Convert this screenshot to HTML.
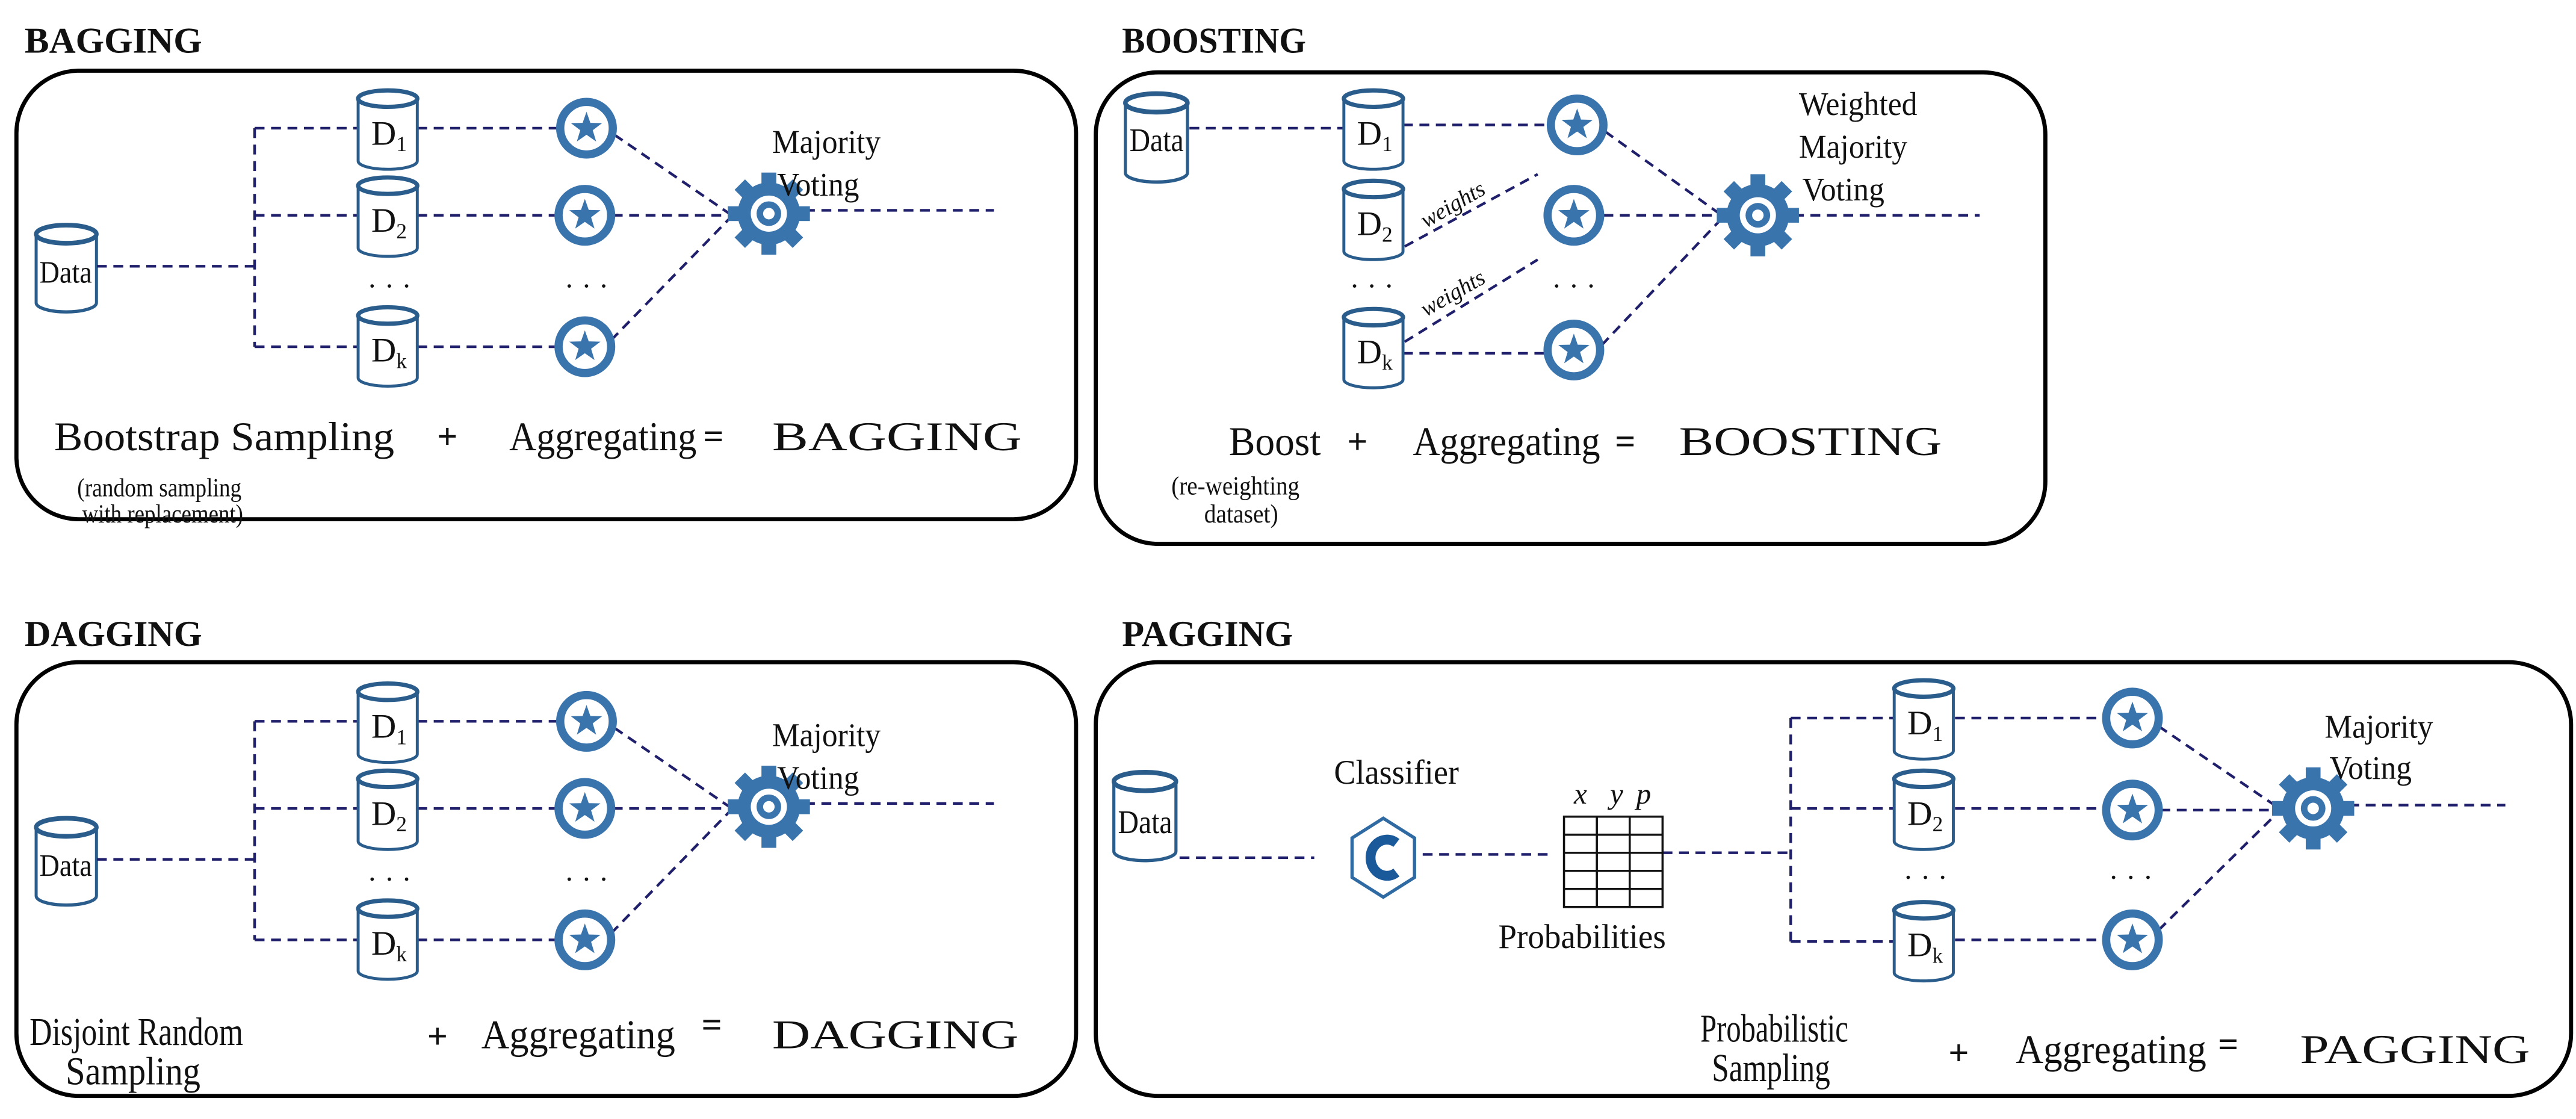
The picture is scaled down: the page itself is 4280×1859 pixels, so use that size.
<!DOCTYPE html>
<html><head><meta charset="utf-8"><style>
html,body{margin:0;padding:0;background:#fff;}
svg{display:block;}
text{font-family:"Liberation Serif",serif;fill:#111;}
</style></head><body>
<svg width="4280" height="1859" viewBox="0 0 1568 681" xmlns="http://www.w3.org/2000/svg">
<defs>
<g id="cyl">
<path d="M0,5 V43 A18,5 0 0 0 36,43 V5" fill="#fff" stroke="#2a5d8c" stroke-width="1.8"/>
<ellipse cx="18" cy="5" rx="18" ry="5" fill="#fff" stroke="#2a5d8c" stroke-width="2.6"/>
</g>
<g id="star">
<circle r="16" fill="#fff" stroke="#3a74ad" stroke-width="5"/>
<polygon fill="#3a74ad" points="0,-10 2.35,-3.24 9.51,-3.09 3.8,1.24 5.88,8.09 0,4 -5.88,8.09 -3.8,1.24 -9.51,-3.09 -2.35,-3.24"/>
</g>
<g id="gear" fill="#3a74ad">
<circle r="19"/>
<rect x="-4.5" y="-25" width="9" height="50"/>
<rect x="-4.5" y="-25" width="9" height="50" transform="rotate(45)"/>
<rect x="-4.5" y="-25" width="9" height="50" transform="rotate(90)"/>
<rect x="-4.5" y="-25" width="9" height="50" transform="rotate(135)"/>
<circle r="11" fill="#fff"/>
<circle r="7.5"/>
<circle r="3.5" fill="#fff"/>
</g>
<g id="bagcore">
<g transform="translate(22,137) scale(1.02,1.1)"><use href="#cyl"/></g>
<text x="40" y="172" font-size="19" text-anchor="middle" textLength="32" lengthAdjust="spacingAndGlyphs">Data</text>
<g stroke="#1f1f6b" stroke-width="1.6" stroke-dasharray="6 4" fill="none">
<line x1="59" y1="162" x2="155" y2="162"/>
<line x1="155" y1="78" x2="155" y2="211"/>
<line x1="155" y1="78" x2="218" y2="78"/>
<line x1="155" y1="131" x2="218" y2="131"/>
<line x1="155" y1="211" x2="218" y2="211"/>
<line x1="254" y1="78" x2="340" y2="78"/>
<line x1="254" y1="131" x2="340" y2="131"/>
<line x1="254" y1="211" x2="340" y2="211"/>
<line x1="374" y1="82" x2="444" y2="130"/>
<line x1="373" y1="131" x2="444" y2="131"/>
<line x1="372" y1="207" x2="444" y2="133"/>
<line x1="490" y1="128" x2="605" y2="128"/>
</g>
<use href="#cyl" x="218" y="55"/>
<use href="#cyl" x="218" y="108"/>
<use href="#cyl" x="218" y="187"/>
<text x="226" y="88" font-size="21">D<tspan font-size="13" dy="4">1</tspan></text>
<text x="226" y="141" font-size="21">D<tspan font-size="13" dy="4">2</tspan></text>
<text x="226" y="220" font-size="21">D<tspan font-size="13" dy="4">k</tspan></text>
<text x="237" y="180" font-size="18" text-anchor="middle">· · ·</text>
<text x="357" y="180" font-size="18" text-anchor="middle">· · ·</text>
<use href="#star" x="357" y="78"/>
<use href="#star" x="356" y="131"/>
<use href="#star" x="356" y="211"/>
<use href="#gear" x="468" y="130"/>
<text x="470" y="93" font-size="20" textLength="66" lengthAdjust="spacingAndGlyphs">Majority</text>
<text x="473" y="119" font-size="20" textLength="50" lengthAdjust="spacingAndGlyphs">Voting</text>
</g>
</defs>

<text x="15" y="32" font-size="22" font-weight="bold" textLength="108" lengthAdjust="spacingAndGlyphs">BAGGING</text>
<text x="683" y="32" font-size="22" font-weight="bold" textLength="112" lengthAdjust="spacingAndGlyphs">BOOSTING</text>
<text x="15" y="393" font-size="22" font-weight="bold" textLength="108" lengthAdjust="spacingAndGlyphs">DAGGING</text>
<text x="683" y="393" font-size="22" font-weight="bold" textLength="104" lengthAdjust="spacingAndGlyphs">PAGGING</text>

<g fill="none" stroke="#000" stroke-width="2.5">
<rect x="10" y="43" width="645" height="273" rx="38"/>
<rect x="667" y="44" width="578" height="287" rx="38"/>
<rect x="10" y="403" width="645" height="264" rx="38"/>
<rect x="667" y="403" width="898" height="264" rx="38"/>
</g>

<!-- BAGGING -->
<use href="#bagcore"/>
<text x="33" y="274" font-size="25" textLength="207" lengthAdjust="spacingAndGlyphs">Bootstrap Sampling</text>
<text x="266" y="273" font-size="22" font-weight="bold">+</text>
<text x="310" y="274" font-size="25" textLength="114" lengthAdjust="spacingAndGlyphs">Aggregating</text>
<text x="428" y="273" font-size="22" font-weight="bold">=</text>
<text x="470" y="274" font-size="25" textLength="152" lengthAdjust="spacingAndGlyphs">BAGGING</text>
<text x="47" y="302" font-size="16" textLength="100" lengthAdjust="spacingAndGlyphs">(random sampling</text>
<text x="50" y="318" font-size="16" textLength="98" lengthAdjust="spacingAndGlyphs">with replacement)</text>

<!-- DAGGING -->
<g transform="translate(0,361)"><use href="#bagcore"/></g>
<text x="18" y="636" font-size="24" textLength="130" lengthAdjust="spacingAndGlyphs">Disjoint Random</text>
<text x="40" y="660" font-size="24" textLength="82" lengthAdjust="spacingAndGlyphs">Sampling</text>
<text x="260" y="638" font-size="22" font-weight="bold">+</text>
<text x="293" y="638" font-size="25" textLength="118" lengthAdjust="spacingAndGlyphs">Aggregating</text>
<text x="427" y="631" font-size="22" font-weight="bold">=</text>
<text x="470" y="638" font-size="25" textLength="150" lengthAdjust="spacingAndGlyphs">DAGGING</text>

<!-- BOOSTING -->
<g transform="translate(685,57) scale(1.05,1.12)"><use href="#cyl"/></g>
<text x="704" y="92" font-size="20" text-anchor="middle" textLength="33" lengthAdjust="spacingAndGlyphs">Data</text>
<g stroke="#1f1f6b" stroke-width="1.6" stroke-dasharray="6 4" fill="none">
<line x1="724" y1="78" x2="818" y2="78"/>
<line x1="854" y1="76" x2="942" y2="76"/>
<line x1="855" y1="150" x2="936" y2="106"/>
<line x1="855" y1="208" x2="936" y2="158"/>
<line x1="854" y1="215" x2="940" y2="215"/>
<line x1="977" y1="80" x2="1048" y2="131"/>
<line x1="976" y1="131" x2="1048" y2="131"/>
<line x1="975" y1="210" x2="1048" y2="133"/>
<line x1="1092" y1="131" x2="1205" y2="131"/>
</g>
<use href="#cyl" x="818" y="55"/>
<use href="#cyl" x="818" y="110"/>
<use href="#cyl" x="818" y="188"/>
<text x="826" y="88" font-size="21">D<tspan font-size="13" dy="4">1</tspan></text>
<text x="826" y="143" font-size="21">D<tspan font-size="13" dy="4">2</tspan></text>
<text x="826" y="221" font-size="21">D<tspan font-size="13" dy="4">k</tspan></text>
<text x="868" y="139" font-size="14" font-style="italic" transform="rotate(-30 868 139)">weights</text>
<text x="868" y="193" font-size="14" font-style="italic" transform="rotate(-30 868 193)">weights</text>
<text x="835" y="180" font-size="18" text-anchor="middle">· · ·</text>
<text x="958" y="180" font-size="18" text-anchor="middle">· · ·</text>
<use href="#star" x="960" y="76"/>
<use href="#star" x="958" y="131"/>
<use href="#star" x="958" y="213"/>
<use href="#gear" x="1070" y="131"/>
<text x="1095" y="70" font-size="20" textLength="72" lengthAdjust="spacingAndGlyphs">Weighted</text>
<text x="1095" y="96" font-size="20" textLength="66" lengthAdjust="spacingAndGlyphs">Majority</text>
<text x="1097" y="122" font-size="20" textLength="50" lengthAdjust="spacingAndGlyphs">Voting</text>
<text x="748" y="277" font-size="25" textLength="56" lengthAdjust="spacingAndGlyphs">Boost</text>
<text x="820" y="276" font-size="22" font-weight="bold">+</text>
<text x="860" y="277" font-size="25" textLength="114" lengthAdjust="spacingAndGlyphs">Aggregating</text>
<text x="983" y="276" font-size="22" font-weight="bold">=</text>
<text x="1022" y="277" font-size="25" textLength="160" lengthAdjust="spacingAndGlyphs">BOOSTING</text>
<text x="713" y="301" font-size="16" textLength="78" lengthAdjust="spacingAndGlyphs">(re-weighting</text>
<text x="733" y="318" font-size="16" textLength="45" lengthAdjust="spacingAndGlyphs">dataset)</text>

<!-- PAGGING -->
<g transform="translate(678,470) scale(1.05,1.12)"><use href="#cyl"/></g>
<text x="697" y="507" font-size="20" text-anchor="middle" textLength="33" lengthAdjust="spacingAndGlyphs">Data</text>
<g stroke="#1f1f6b" stroke-width="1.6" stroke-dasharray="6 4" fill="none">
<line x1="718" y1="522" x2="800" y2="522"/>
<line x1="866" y1="520" x2="945" y2="520"/>
<line x1="1012" y1="519" x2="1090" y2="519"/>
<line x1="1090" y1="437" x2="1090" y2="573"/>
<line x1="1090" y1="437" x2="1153" y2="437"/>
<line x1="1090" y1="492" x2="1153" y2="492"/>
<line x1="1090" y1="573" x2="1153" y2="573"/>
<line x1="1190" y1="437" x2="1280" y2="437"/>
<line x1="1190" y1="492" x2="1280" y2="492"/>
<line x1="1190" y1="572" x2="1280" y2="572"/>
<line x1="1314" y1="442" x2="1386" y2="491"/>
<line x1="1315" y1="493" x2="1386" y2="493"/>
<line x1="1314" y1="566" x2="1386" y2="495"/>
<line x1="1430" y1="490" x2="1525" y2="490"/>
</g>
<polygon points="842,498 861,510 861,534 842,546 823,534 823,510" fill="#fff" stroke="#2f6aa3" stroke-width="2"/>
<path d="M850,513 A10,11 0 1 0 850,531" fill="none" stroke="#1a5a9a" stroke-width="6"/>
<text x="812" y="477" font-size="21" textLength="76" lengthAdjust="spacingAndGlyphs">Classifier</text>
<g stroke="#111" stroke-width="1.3" fill="none">
<rect x="952" y="497" width="60" height="55"/>
<line x1="972" y1="497" x2="972" y2="552"/>
<line x1="992" y1="497" x2="992" y2="552"/>
<line x1="952" y1="508" x2="1012" y2="508"/>
<line x1="952" y1="519" x2="1012" y2="519"/>
<line x1="952" y1="530" x2="1012" y2="530"/>
<line x1="952" y1="541" x2="1012" y2="541"/>
</g>
<text x="958" y="489" font-size="18" font-style="italic">x</text>
<text x="980" y="489" font-size="18" font-style="italic">y</text>
<text x="996" y="489" font-size="18" font-style="italic">p</text>
<text x="912" y="577" font-size="21" textLength="102" lengthAdjust="spacingAndGlyphs">Probabilities</text>
<use href="#cyl" x="1153" y="414"/>
<use href="#cyl" x="1153" y="469"/>
<use href="#cyl" x="1153" y="549"/>
<text x="1161" y="447" font-size="21">D<tspan font-size="13" dy="4">1</tspan></text>
<text x="1161" y="502" font-size="21">D<tspan font-size="13" dy="4">2</tspan></text>
<text x="1161" y="582" font-size="21">D<tspan font-size="13" dy="4">k</tspan></text>
<text x="1172" y="540" font-size="18" text-anchor="middle">· · ·</text>
<text x="1297" y="540" font-size="18" text-anchor="middle">· · ·</text>
<use href="#star" x="1298" y="437"/>
<use href="#star" x="1298" y="493"/>
<use href="#star" x="1298" y="572"/>
<use href="#gear" x="1408" y="492"/>
<text x="1415" y="449" font-size="20" textLength="66" lengthAdjust="spacingAndGlyphs">Majority</text>
<text x="1418" y="474" font-size="20" textLength="50" lengthAdjust="spacingAndGlyphs">Voting</text>
<text x="1035" y="634" font-size="24" textLength="90" lengthAdjust="spacingAndGlyphs">Probabilistic</text>
<text x="1042" y="658" font-size="24" textLength="72" lengthAdjust="spacingAndGlyphs">Sampling</text>
<text x="1186" y="648" font-size="22" font-weight="bold">+</text>
<text x="1227" y="647" font-size="25" textLength="116" lengthAdjust="spacingAndGlyphs">Aggregating</text>
<text x="1350" y="643" font-size="22" font-weight="bold">=</text>
<text x="1400" y="647" font-size="25" textLength="140" lengthAdjust="spacingAndGlyphs">PAGGING</text>
</svg>
</body></html>
